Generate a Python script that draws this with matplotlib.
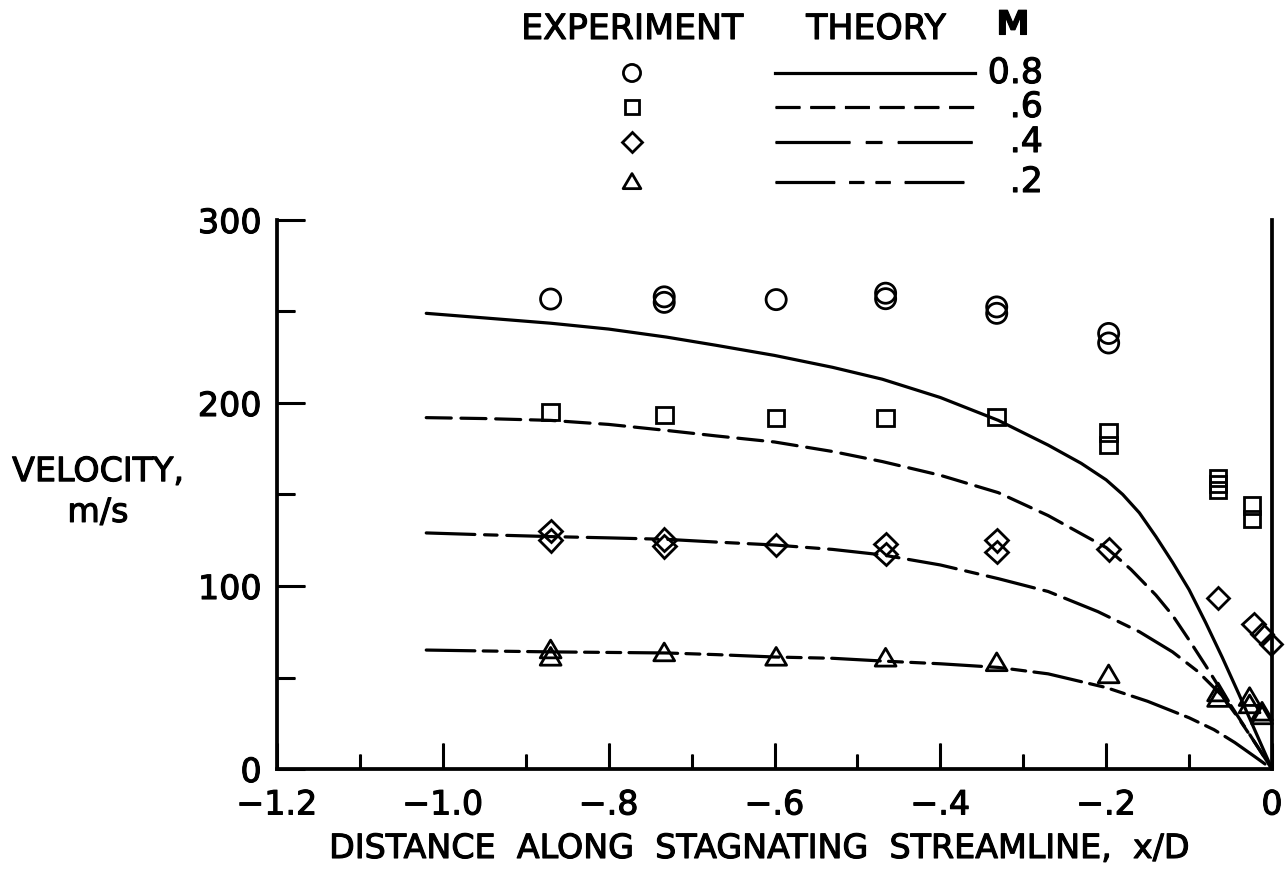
import matplotlib
matplotlib.use("Agg")
import matplotlib.pyplot as plt
import matplotlib.patheffects as pe
from matplotlib.path import Path
from matplotlib.ticker import FixedLocator, FixedFormatter

plt.rcParams['font.family'] = ['DejaVu Sans']
plt.rcParams['lines.scale_dashes'] = False
# slightly heavier lettering: a thin outline stroke under every glyph
plt.rcParams['path.effects'] = [pe.withStroke(linewidth=0.8, foreground='black')]

# ---- Theory curves (x/D, velocity in m/s) ----
theory_x_08 = [-1.02, -0.95, -0.87, -0.80, -0.73, -0.67, -0.60, -0.53, -0.47, -0.40,
               -0.33, -0.27, -0.23, -0.20, -0.18, -0.16, -0.14, -0.12, -0.10, -0.08,
               -0.06, -0.04, -0.02, 0.0]
theory_v_08 = [249, 246.5, 243.6, 240.4, 236, 231.5, 226, 219.5, 213, 203,
               190.5, 177, 167, 158, 150, 140, 127, 113, 98, 80,
               61, 41, 20.5, 0]

theory_x_06 = [-1.02, -0.95, -0.87, -0.80, -0.73, -0.67, -0.60, -0.53, -0.47, -0.40,
               -0.33, -0.27, -0.23, -0.20, -0.17, -0.14, -0.12, -0.10, -0.08, -0.06,
               -0.04, -0.02, 0.0]
theory_v_06 = [192, 191.5, 190.5, 188.3, 185, 182, 178.7, 173.5, 168, 160.5,
               151, 138.5, 128.5, 121, 109, 95, 84, 70.5, 56.5, 42,
               28, 14, 0]

theory_x_04 = [-1.02, -0.95, -0.87, -0.80, -0.73, -0.67, -0.60, -0.53, -0.47, -0.40,
               -0.33, -0.27, -0.21, -0.16, -0.12, -0.09, -0.06, -0.04, -0.02, 0.0]
theory_v_04 = [129, 128, 127, 126.3, 125.5, 124, 122.4, 120, 117, 111.5,
               104, 97, 86, 75, 64, 53.5, 40, 27.5, 14, 0]

theory_x_02 = [-1.02, -0.95, -0.87, -0.80, -0.73, -0.67, -0.60, -0.53, -0.47, -0.40,
               -0.33, -0.27, -0.20, -0.15, -0.10, -0.07, -0.045, -0.02, 0.0]
theory_v_02 = [65, 64.5, 64, 63.7, 63.4, 62.5, 61.2, 60.5, 59, 57.5,
               55.5, 52, 44.5, 37, 28, 21.5, 14.5, 6.5, 0]

# ---- Experimental points (x/D, velocity in m/s) ----
exp_x_08 = [-0.87, -0.733, -0.733, -0.598, -0.466, -0.466, -0.332, -0.332, -0.197, -0.197]
exp_v_08 = [256.8, 258, 255, 256.5, 260, 257, 252.5, 249, 238, 232.8]

exp_x_06 = [-0.87, -0.733, -0.598, -0.466, -0.332, -0.197, -0.197,
            -0.065, -0.065, -0.065, -0.024, -0.024]
exp_v_06 = [195, 193.4, 191.8, 191.8, 192.3, 184, 177,
            159, 155.7, 152.4, 144, 136.6]

exp_x_04 = [-0.87, -0.87, -0.733, -0.733, -0.598, -0.466, -0.466, -0.332, -0.332,
            -0.197, -0.065, -0.022, -0.012, -0.001]
exp_v_04 = [130, 125, 125.4, 121.6, 122.4, 123, 117.5, 125, 118.6,
            120, 93.4, 79, 73.8, 68.3]

exp_x_02 = [-0.87, -0.87, -0.733, -0.598, -0.466, -0.332, -0.197,
            -0.065, -0.065, -0.027, -0.027, -0.012, -0.012]
exp_v_02 = [65, 61, 63.4, 61, 60.5, 58, 51.4,
            41.5, 38.5, 39, 35, 31, 29]

mach_labels = ['0.8', '.6', '.4', '.2']

x_ticks = [-1.2, -1.0, -0.8, -0.6, -0.4, -0.2, 0.0]
x_ticklabels = ['\u22121.2', '\u22121.0', '\u2212.8', '\u2212.6', '\u2212.4', '\u2212.2', '0']
x_minor = [-1.1, -0.9, -0.7, -0.5, -0.3, -0.1]
y_ticks = [0, 100, 200, 300]
y_ticklabels = ['0', '100', '200', '300']
y_minor = [50, 150, 250]

# ---- Styles ----
LW = 2.3
FS = 24
styles = [
    '-',
    (0, (18, 7)),
    (0, (35, 7, 9, 7)),
    (0, (35, 6, 10, 6, 10, 6)),
]
key_styles = [
    '-',
    (0, (18, 7)),
    (0, (54, 11, 12, 11)),
    (0, (43, 10, 11, 8, 11, 10)),
]
tri = Path([(-1.0, -0.75), (1.0, -0.75), (0.0, 0.95), (-1.0, -0.75)],
           [Path.MOVETO, Path.LINETO, Path.LINETO, Path.CLOSEPOLY])
markers = [('o', 14.5), ('s', 12.0), ('D', 11.5), (tri, 15.0)]
MEW = 2.0

W, H = 1287, 871
fig = plt.figure(figsize=(W / 100, H / 100), dpi=100)
fig.patch.set_path_effects([])
ax = fig.add_axes([277 / W, 102 / H, 995 / W, 549 / H])
ax.patch.set_path_effects([])

theory = [(theory_x_08, theory_v_08), (theory_x_06, theory_v_06),
          (theory_x_04, theory_v_04), (theory_x_02, theory_v_02)]
exper = [(exp_x_08, exp_v_08), (exp_x_06, exp_v_06),
         (exp_x_04, exp_v_04), (exp_x_02, exp_v_02)]

for (tx, tv), ls in zip(theory, styles):
    ax.plot(tx, tv, color='black', lw=LW, linestyle=ls, solid_capstyle='round',
            dash_capstyle='round', solid_joinstyle='round')
for (ex, ev), (mk, ms) in zip(exper, markers):
    ax.plot(ex, ev, linestyle='none', marker=mk, ms=ms, mfc='none',
            mec='black', mew=MEW, clip_on=False, zorder=3)

ax.set_xlim(-1.2, 0.0)
ax.set_ylim(0, 300)

ax.xaxis.set_major_locator(FixedLocator(x_ticks))
ax.xaxis.set_major_formatter(FixedFormatter(x_ticklabels))
ax.xaxis.set_minor_locator(FixedLocator(x_minor))
ax.yaxis.set_major_locator(FixedLocator(y_ticks))
ax.yaxis.set_major_formatter(FixedFormatter(y_ticklabels))
ax.yaxis.set_minor_locator(FixedLocator(y_minor))

ax.tick_params(axis='x', which='major', direction='in', length=19, width=2.2,
               labelsize=FS, pad=14, top=False)
ax.tick_params(axis='x', which='minor', direction='in', length=11, width=2.2, top=False)
ax.tick_params(axis='y', which='major', direction='in', length=20, width=2.2,
               labelsize=FS, pad=11, right=False)
ax.tick_params(axis='y', which='minor', direction='in', length=13, width=2.2, right=False)

for side in ('left', 'bottom', 'right'):
    ax.spines[side].set_linewidth(2.7)
ax.spines['top'].set_visible(False)

ax.set_xlabel('DISTANCE  ALONG  STAGNATING  STREAMLINE,  x/D', fontsize=FS)
ax.xaxis.set_label_coords((760 - 277) / 995, (769 - 832) / 549)
ax.set_ylabel('VELOCITY,\nm/s', fontsize=FS, rotation=0, ha='center', va='center',
              multialignment='center', linespacing=1.3)
ax.yaxis.set_label_coords((98 - 277) / 995, (769 - 492) / 549)

# ---- Key above the plot, laid out in figure pixels ----
key = fig.add_axes([0, 0, 1, 1], facecolor='none')
key.patch.set_path_effects([])
key.set_xlim(0, W)
key.set_ylim(H, 0)
key.axis('off')

key.text(632, 29, 'EXPERIMENT', fontsize=FS + 1, ha='center', va='center')
key.text(876, 29, 'THEORY', fontsize=FS + 1, ha='center', va='center')
key.text(1013, 25, 'M', fontsize=FS, ha='center', va='center', fontweight='bold')

row_y = [73, 107, 142, 182]
for ry, ls, (mk, ms), lab in zip(row_y, key_styles, markers, mach_labels):
    key.plot([632], [ry], linestyle='none', marker=mk, ms=ms * 0.85, mfc='none',
             mec='black', mew=MEW)
    key.plot([775, 975], [ry, ry], color='black', lw=LW, linestyle=ls)
    key.text(1043, ry, lab, fontsize=FS + 1, ha='right', va='center')

fig.savefig('out.png', dpi=100, facecolor='white')
